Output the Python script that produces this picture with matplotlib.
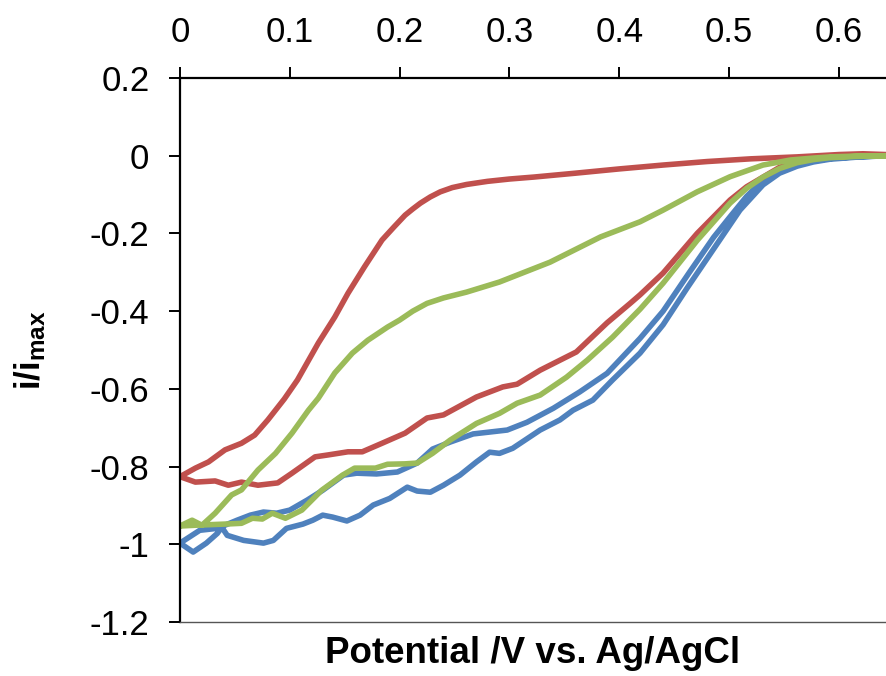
import matplotlib
matplotlib.use("Agg")
import matplotlib.pyplot as plt

plt.rcParams['font.family'] = ['Liberation Sans', 'DejaVu Sans']
plt.rcParams['mathtext.fontset'] = 'custom'
plt.rcParams['mathtext.rm'] = 'Liberation Sans'
plt.rcParams['mathtext.bf'] = 'Liberation Sans:bold'

# ---- data (potential V vs Ag/AgCl, normalised current) ----
# Each series: full loop = upper branch (right -> 0) followed by lower branch (0 -> right)
blue_x = [0.643, 0.615, 0.592, 0.577, 0.562, 0.546, 0.531, 0.510, 0.486, 0.462, 0.440, 0.419,
          0.394, 0.376, 0.358, 0.346, 0.328, 0.303, 0.291, 0.282, 0.270, 0.255, 0.240, 0.228,
          0.216, 0.207, 0.191, 0.176, 0.164, 0.152, 0.139, 0.130, 0.121, 0.112, 0.097, 0.085,
          0.076, 0.058, 0.043, 0.038, 0.034, 0.024, 0.012, 0.000,
          0.018, 0.034, 0.052, 0.064, 0.076, 0.088, 0.100, 0.116, 0.130, 0.149, 0.161,
          0.179, 0.198, 0.216, 0.230, 0.246, 0.267, 0.298, 0.316, 0.340, 0.364, 0.389,
          0.419, 0.440, 0.464, 0.486, 0.501, 0.516, 0.531, 0.546, 0.562, 0.577, 0.592,
          0.615, 0.643]
blue_y = [0.000, -0.004, -0.009, -0.016, -0.027, -0.045, -0.075, -0.140, -0.240, -0.340,
          -0.435, -0.508, -0.577, -0.629, -0.655, -0.680, -0.706, -0.753, -0.766, -0.763,
          -0.788, -0.822, -0.848, -0.866, -0.863, -0.853, -0.882, -0.899, -0.925, -0.940,
          -0.930, -0.925, -0.938, -0.948, -0.959, -0.990, -0.997, -0.990, -0.977, -0.956,
          -0.972, -0.997, -1.020, -0.997,
          -0.964, -0.959, -0.938, -0.925, -0.917, -0.920, -0.912, -0.886, -0.861, -0.822, -0.817,
          -0.819, -0.814, -0.791, -0.755, -0.737, -0.716, -0.706, -0.686, -0.650, -0.608, -0.560,
          -0.470, -0.400, -0.300, -0.210, -0.157, -0.105, -0.063, -0.038, -0.022, -0.013, -0.007,
          -0.003, 0.000]

red_x = [0.643, 0.622, 0.600, 0.562, 0.520, 0.480, 0.440, 0.400, 0.360, 0.322, 0.300, 0.280,
         0.261, 0.248, 0.237, 0.228, 0.219, 0.212, 0.205, 0.195, 0.184, 0.168, 0.153, 0.141,
         0.126, 0.107, 0.095, 0.080, 0.068, 0.056, 0.041, 0.026, 0.014, 0.000,
         0.014, 0.032, 0.044, 0.056, 0.071, 0.089, 0.102, 0.123, 0.135, 0.153, 0.166,
         0.184, 0.205, 0.225, 0.240, 0.270, 0.294, 0.307, 0.328, 0.361, 0.389, 0.410, 0.419,
         0.440, 0.471, 0.501, 0.516, 0.531, 0.546, 0.562, 0.577, 0.592, 0.615, 0.643]
red_y = [0.003, 0.005, 0.003, -0.003, -0.008, -0.015, -0.024, -0.034, -0.045, -0.055, -0.060,
         -0.066, -0.074, -0.082, -0.093, -0.106, -0.122, -0.137, -0.153, -0.183, -0.217,
         -0.286, -0.354, -0.415, -0.482, -0.577, -0.626, -0.680, -0.719, -0.740, -0.757,
         -0.788, -0.804, -0.826,
         -0.840, -0.837, -0.848, -0.840, -0.848, -0.842, -0.817, -0.775, -0.770, -0.762, -0.762,
         -0.740, -0.714, -0.675, -0.667, -0.621, -0.595, -0.588, -0.552, -0.505, -0.430, -0.380,
         -0.358, -0.302, -0.200, -0.114, -0.080, -0.055, -0.030, -0.014, -0.006, -0.002, 0.001,
         0.002]

green_x = [0.643, 0.615, 0.592, 0.577, 0.556, 0.531, 0.501, 0.471, 0.440, 0.419, 0.383, 0.337,
           0.291, 0.261, 0.240, 0.225, 0.212, 0.200, 0.189, 0.171, 0.157, 0.141, 0.126, 0.117,
           0.102, 0.087, 0.071, 0.056, 0.047, 0.032, 0.020, 0.011, 0.000,
           0.014, 0.041, 0.056, 0.066, 0.075, 0.084, 0.096, 0.111, 0.129, 0.148, 0.159,
           0.178, 0.189, 0.205, 0.216, 0.230, 0.246, 0.270, 0.291, 0.307, 0.328, 0.352,
           0.371, 0.394, 0.419, 0.440, 0.471, 0.501, 0.516, 0.531, 0.546, 0.562, 0.577,
           0.592, 0.615, 0.643]
green_y = [0.000, -0.001, -0.003, -0.006, -0.011, -0.024, -0.054, -0.093, -0.140, -0.170,
           -0.209, -0.274, -0.325, -0.351, -0.366, -0.380, -0.400, -0.423, -0.441, -0.475,
           -0.508, -0.559, -0.624, -0.655, -0.714, -0.766, -0.809, -0.860, -0.873, -0.920,
           -0.951, -0.938, -0.953,
           -0.951, -0.948, -0.946, -0.933, -0.935, -0.920, -0.933, -0.912, -0.861, -0.822, -0.804,
           -0.804, -0.794, -0.793, -0.791, -0.766, -0.732, -0.689, -0.663, -0.637, -0.616, -0.570,
           -0.526, -0.467, -0.395, -0.328, -0.218, -0.122, -0.084, -0.055, -0.033, -0.018, -0.010,
           -0.005, -0.002, 0.000]

x_ticks = [0, 0.1, 0.2, 0.3, 0.4, 0.5, 0.6]
x_ticklabels = ['0', '0.1', '0.2', '0.3', '0.4', '0.5', '0.6']
y_ticks = [-1.2, -1.0, -0.8, -0.6, -0.4, -0.2, 0.0, 0.2]
y_ticklabels = ['-1.2', '-1', '-0.8', '-0.6', '-0.4', '-0.2', '0', '0.2']

series = [(blue_x, blue_y, '#4F81BD'),
          (red_x, red_y, '#C0504D'),
          (green_x, green_y, '#9BBB59')]

fig = plt.figure(figsize=(8.86, 6.76), dpi=100)
ax = fig.add_axes([180/886, 1-622/676, 706/886, 544/676])

for xs, ys, c in series:
    ax.plot(xs, ys, color=c, lw=4.0, solid_capstyle='round', solid_joinstyle='round')

ax.set_xlim(0, 0.643)
ax.set_ylim(-1.2, 0.2)

ax.xaxis.set_ticks_position('top')
ax.xaxis.set_label_position('bottom')
ax.set_xticks(x_ticks)
ax.set_xticklabels(x_ticklabels)
ax.set_yticks(y_ticks)
ax.set_yticklabels(y_ticklabels)

ax.tick_params(axis='x', direction='out', length=8, width=1.4, labelsize=25, pad=13, colors='black')
ax.tick_params(axis='y', direction='out', length=8, width=1.4, labelsize=25, pad=14, colors='black')

ax.spines['right'].set_visible(False)
ax.spines['left'].set_linewidth(1.6)
ax.spines['top'].set_linewidth(1.6)
ax.spines['bottom'].set_linewidth(1.0)
ax.spines['bottom'].set_color('#555555')

ax.set_xlabel('Potential /V vs. Ag/AgCl', fontsize=26.5, fontweight='bold')
ax.xaxis.set_label_coords(0.5, -0.026)
ax.set_ylabel(r'$\mathbf{i/i_{max}}$', fontsize=25)
ax.yaxis.set_label_coords(-0.187, 0.5)

fig.savefig('out.png', dpi=100)
